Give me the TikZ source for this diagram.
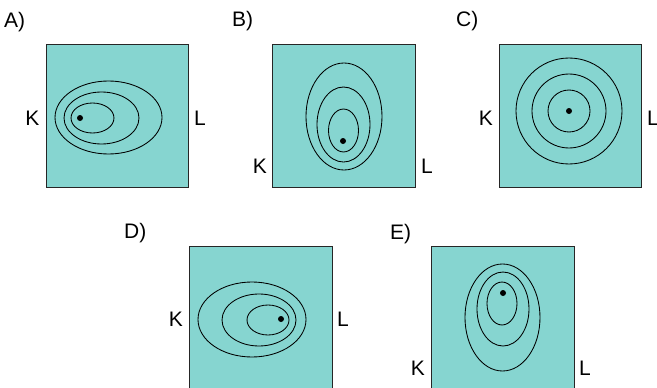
\documentclass[tikz,border=0pt]{standalone}
\usepackage{fontspec}
\setmainfont{Liberation Sans}
\definecolor{panelfill}{RGB}{134,213,208}
\tikzset{
    panel/.style={draw=black!85, fill=panelfill, line width=0.8pt},
    contour/.style={draw=black, line width=0.85pt},
    peak/.style={fill=black},
    tag/.style={font=\fontsize{21}{24}\selectfont, inner sep=0pt},
}
\begin{document}
\begin{tikzpicture}[x=1pt,y=-1pt]
        \useasboundingbox (0,0) rectangle (657,388);
        % A: peak near K
        \draw[panel] (46,44) rectangle (188,187);
        \draw[contour] (108.5,117.5) ellipse [x radius=53.5, y radius=36.5];
        \draw[contour] (101.5,118) ellipse [x radius=37.5, y radius=26];
        \draw[contour] (92.5,118) ellipse [x radius=21.5, y radius=15];
        \fill[peak] (80,118) circle [radius=3];
        \node[tag, anchor=base west] (labA) at (4,27.5) {A)};
        \node[tag, anchor=base east] (kA) at (39.5,125) {K};
        \node[tag, anchor=base west] (lA) at (194,125) {L};
        % B: peak low, tall ellipses
        \draw[panel] (272,44) rectangle (415,187);
        \draw[contour] (344,116.5) ellipse [x radius=38, y radius=53.5];
        \draw[contour] (343.5,124.5) ellipse [x radius=26.5, y radius=37.5];
        \draw[contour] (343.5,130.5) ellipse [x radius=15, y radius=21.5];
        \fill[peak] (343,141) circle [radius=3];
        \node[tag, anchor=base west] (labB) at (232,27) {B)};
        \node[tag, anchor=base east] (kB) at (267,173) {K};
        \node[tag, anchor=base west] (lB) at (421,173) {L};
        % C: circles round the middle
        \draw[panel] (499,44) rectangle (641,187);
        \foreach \r in {53,37,21}
            \draw[contour] (569,111) circle [radius=\r];
        \fill[peak] (569,111) circle [radius=3];
        \node[tag, anchor=base west] (labC) at (456,27) {C)};
        \node[tag, anchor=base east] (kC) at (493,125) {K};
        \node[tag, anchor=base west] (lC) at (647,125) {L};
        % D: peak near L
        \draw[panel] (189,246) rectangle (332,390);
        \draw[contour] (252,319.5) ellipse [x radius=54, y radius=37.5];
        \draw[contour] (259,320) ellipse [x radius=37, y radius=26];
        \draw[contour] (268,320) ellipse [x radius=21, y radius=15];
        \fill[peak] (281,319) circle [radius=3];
        \node[tag, anchor=base west] (labD) at (124,238) {D)};
        \node[tag, anchor=base east] (kD) at (183,326.5) {K};
        \node[tag, anchor=base west] (lD) at (337,326.5) {L};
        % E: peak high, tall ellipses
        \draw[panel] (431,246) rectangle (574,390);
        \draw[contour] (502.5,317.5) ellipse [x radius=37.5, y radius=53.5];
        \draw[contour] (503,309) ellipse [x radius=26, y radius=37];
        \draw[contour] (502,303.5) ellipse [x radius=15, y radius=21.5];
        \fill[peak] (503,293) circle [radius=3];
        \node[tag, anchor=base west] (labE) at (390,239) {E)};
        \node[tag, anchor=base east] (kE) at (425,375) {K};
        \node[tag, anchor=base west] (lE) at (579,375) {L};
    \end{tikzpicture}
\end{document}
